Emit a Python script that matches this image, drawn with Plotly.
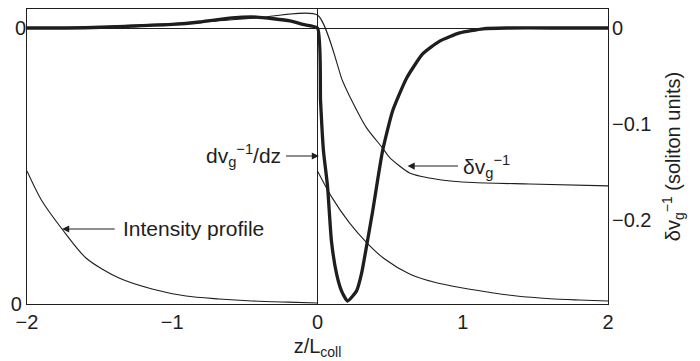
import plotly.graph_objects as go

# ---- data ----
# Intensity profile (normalised to 1 just after each amplifier), two spans
z_int_left = [-2.0, -1.9, -1.759, -1.594, -1.366, -1.139, -0.905, -0.678, -0.45, -0.2, 0.0]
int_left = [1.0, 0.78, 0.564, 0.346, 0.195, 0.113, 0.06, 0.038, 0.023, 0.014, 0.008]
z_int_right = [0.0, 0.1, 0.22, 0.34, 0.46, 0.634, 0.8, 1.0, 1.2, 1.37, 1.6, 1.8, 2.0]
int_right = [1.0, 0.80, 0.61, 0.46, 0.34, 0.226, 0.165, 0.12, 0.085, 0.06, 0.04, 0.03, 0.022]

# d(v_g^-1)/dz (normalised so the minimum is -1)
z_dv = [-2.0, -1.6, -1.27, -1.0, -0.81, -0.59, -0.42, -0.19, -0.1, 0.0,
        0.021, 0.041, 0.069, 0.096, 0.131, 0.165, 0.207, 0.269, 0.303, 0.344,
        0.380, 0.413, 0.448, 0.517, 0.614, 0.724, 0.841, 0.979, 1.14, 1.3, 1.6, 2.0]
dvdz = [0.0, 0.001, 0.007, 0.013, 0.022, 0.037, 0.040, 0.026, 0.013, 0.0,
        -0.267, -0.45, -0.579, -0.78, -0.90, -0.963, -1.0, -0.963, -0.90, -0.78,
        -0.67, -0.56, -0.45, -0.304, -0.183, -0.095, -0.048, -0.018, -0.003, 0.0, 0.0, 0.0]

# delta v_g^-1 (soliton units)
z_dvg = [-2.0, -1.5, -1.27, -0.81, -0.42, 0.0, 0.172, 0.221, 0.338, 0.448,
         0.497, 0.634, 0.841, 1.069, 1.46, 2.0]
dvg = [0.0, 0.001, 0.003, 0.006, 0.0105, 0.0135, -0.055, -0.071, -0.104, -0.125,
       -0.135, -0.151, -0.158, -0.161, -0.1625, -0.1645]

x_ticks = [-2, -1, 0, 1, 2]
x_ticktext = ["\u22122", "\u22121", "0", "1", "2"]
r_ticks = [0, -0.1, -0.2]
r_ticktext = ["0", "\u22120.1", "\u22120.2"]

INK = "#1e1e1e"
FONT = "Liberation Sans, Arial, Helvetica, sans-serif"

fig = go.Figure()
fig.add_trace(go.Scatter(
    x=z_int_left + [None] + z_int_right, y=int_left + [None] + int_right,
    mode="lines", line=dict(color=INK, width=1.1, shape="spline", smoothing=0.8),
    yaxis="y", showlegend=False, hoverinfo="skip", connectgaps=False))
fig.add_trace(go.Scatter(
    x=z_dvg, y=dvg, mode="lines",
    line=dict(color=INK, width=1.1, shape="spline", smoothing=0.6),
    yaxis="y3", showlegend=False, hoverinfo="skip"))
fig.add_trace(go.Scatter(
    x=z_dv, y=dvdz, mode="lines",
    line=dict(color=INK, width=3.3, shape="spline", smoothing=0.5),
    yaxis="y2", showlegend=False, hoverinfo="skip"))

ann_font = dict(family=FONT, size=21, color=INK)
annotations = [
    dict(x=-1.759, y=0.564, xref="x", yref="y", ax=-1.386, ay=0.564, axref="x", ayref="y",
         text="", showarrow=True, arrowhead=2, arrowsize=1.3, arrowwidth=1.1, arrowcolor=INK),
    dict(x=-1.35, y=0.564, xref="x", yref="y", text="Intensity profile", showarrow=False,
         xanchor="left", yanchor="middle", font=ann_font),
    dict(x=0.010, y=-0.1333, xref="x", yref="y3", ax=-0.227, ay=-0.1333, axref="x", ayref="y3",
         text="", showarrow=True, arrowhead=2, arrowsize=1.3, arrowwidth=1.1, arrowcolor=INK),
    dict(x=-0.24, y=-0.1333, xref="x", yref="y3", text="dv<sub>g</sub><sup>\u22121</sup>/dz",
         showarrow=False, xanchor="right", yanchor="middle", font=ann_font),
    dict(x=0.62, y=-0.1438, xref="x", yref="y3", ax=0.978, ay=-0.1438, axref="x", ayref="y3",
         text="", showarrow=True, arrowhead=2, arrowsize=1.3, arrowwidth=1.1, arrowcolor=INK),
    dict(x=0.985, y=-0.1438, xref="x", yref="y3", text="\u03b4v<sub>g</sub><sup>\u22121</sup>",
         showarrow=False, xanchor="left", yanchor="middle", font=ann_font),
]

tick_font = dict(family=FONT, size=20, color=INK)
# The page body has an 8px default margin, so the figure is sized 692x353
fig.update_layout(
    width=692, height=353,
    margin=dict(l=19, r=92, t=1, b=57, autoexpand=False),
    paper_bgcolor="white", plot_bgcolor="white",
    font=dict(family=FONT, size=20, color=INK),
    showlegend=False,
    annotations=annotations,
    xaxis=dict(range=[-2, 2], tickvals=x_ticks, ticktext=x_ticktext, ticks="",
               automargin=False,
               showgrid=False, zeroline=True, zerolinecolor=INK, zerolinewidth=1.2,
               showline=True, mirror=True, linecolor=INK, linewidth=1.3,
               tickfont=tick_font,
               title=dict(text="z/L<sub>coll</sub>", font=dict(family=FONT, size=20, color=INK),
                          standoff=6)),
    yaxis=dict(range=[0, 2.218], tickvals=[0], ticktext=["0"], ticks="", automargin=False,
               showgrid=False, zeroline=False, showline=True, mirror=True,
               linecolor=INK, linewidth=1.3, tickfont=tick_font),
    yaxis2=dict(range=[-1.011, 0.0696], overlaying="y", side="left", tickvals=[0],
                ticktext=["0"], ticks="", showgrid=False, zeroline=False, showline=False,
                automargin=False, tickfont=tick_font),
    yaxis3=dict(range=[-0.2875, 0.0198], overlaying="y", side="right", tickvals=r_ticks,
                ticktext=r_ticktext, ticks="", showgrid=False, zeroline=True,
                automargin=False, ticklabelstandoff=3,
                zerolinecolor=INK, zerolinewidth=1.1, showline=False, tickfont=tick_font,
                title=dict(text="\u03b4v<sub>g</sub><sup>\u22121</sup> (soliton units)",
                           font=dict(family=FONT, size=20, color=INK), standoff=15)),
)

fig.write_html("out.html")
